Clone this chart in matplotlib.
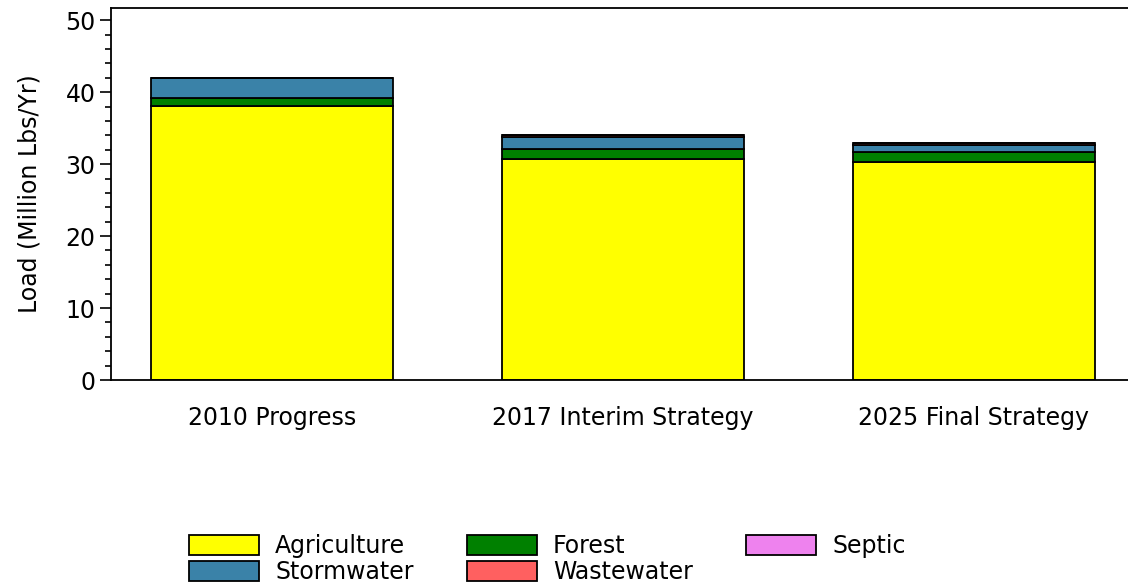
import matplotlib
matplotlib.use("Agg")
import matplotlib.pyplot as plt
from matplotlib.patches import Patch
import numpy as np

categories = ["2010 Progress", "2017 Interim Strategy", "2025 Final Strategy"]
agriculture = [38.05, 30.65, 30.28]
forest = [1.15, 1.40, 1.42]
stormwater = [2.75, 1.75, 1.00]
wastewater = [0.03, 0.20, 0.20]
septic = [0.02, 0.08, 0.08]

series = [
    ("Agriculture", agriculture, "#FFFF00"),
    ("Forest", forest, "#008000"),
    ("Stormwater", stormwater, "#3A82A8"),
    ("Wastewater", wastewater, "#FF6060"),
    ("Septic", septic, "#EE82EE"),
]

plt.rcParams['font.family'] = ['DejaVu Sans']
FS = 17

fig = plt.figure(figsize=(11.28, 5.88), dpi=100)
ax = fig.add_axes([111/1128, (588-380)/588, 1 - 111/1128, (380-8)/588])

x = np.arange(len(categories))
bottom = np.zeros(len(categories))
handles = {}
for name, vals, color in series:
    v = np.array(vals)
    ax.bar(x, v, width=0.69, bottom=bottom, color=color, edgecolor="black", linewidth=1.3)
    bottom += v
    handles[name] = Patch(facecolor=color, edgecolor="black", linewidth=1.3)

ax.set_xlim(-0.459, 2.439)
ax.set_ylim(0, 51.7)
ax.set_yticks(np.arange(0, 51, 10))
ax.set_yticks(np.arange(0, 51, 2), minor=True)
ax.tick_params(axis='y', which='major', length=8, width=1.2, labelsize=FS, pad=3)
ax.tick_params(axis='y', which='minor', length=4, width=1.2)
ax.set_xticks(x)
ax.set_xticklabels(categories, fontsize=FS)
ax.tick_params(axis='x', length=0, pad=19)
ax.spines['right'].set_visible(False)
for s in ['left', 'bottom', 'top']:
    ax.spines[s].set_linewidth(1.3)
ax.set_ylabel("Load (Million Lbs/Yr)", fontsize=FS, labelpad=17)

order = ["Agriculture", "Stormwater", "Forest", "Wastewater", "Septic"]
fig.legend([handles[n] for n in order], order, ncol=3, frameon=False,
           loc="upper left", bbox_to_anchor=(189/1128, (588-534)/588),
           fontsize=FS, handlelength=2.97, handleheight=0.9, handletextpad=0.68,
           labelspacing=0.1, columnspacing=2.25, borderpad=0, borderaxespad=0)

fig.savefig("out.png", dpi=100)
